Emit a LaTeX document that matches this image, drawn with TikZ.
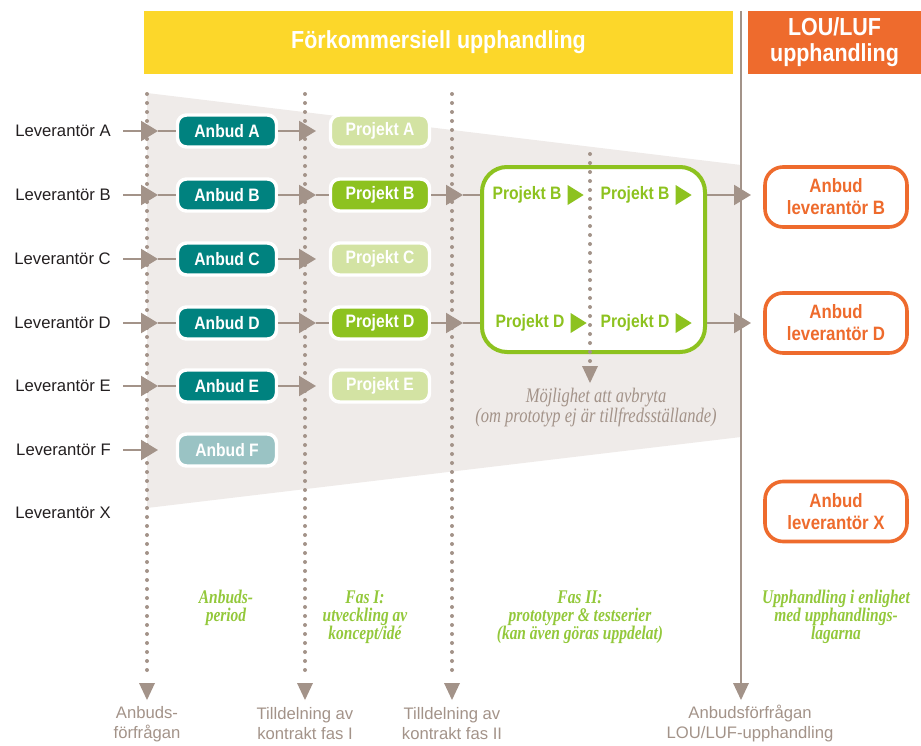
\documentclass[tikz,border=0pt]{standalone}
\usepackage{fontspec}
\setmainfont{Liberation Sans}
\newfontfamily\condb[FakeStretch=0.87]{Liberation Sans}
\newfontfamily\serifit[FakeStretch=0.8]{Liberation Serif}
\usetikzlibrary{arrows.meta}
\definecolor{tealc}{HTML}{00827F}
\definecolor{tealf}{HTML}{9AC3C4}
\definecolor{grn}{HTML}{8DC21F}
\definecolor{grnf}{HTML}{D3E3A3}
\definecolor{grntxt}{HTML}{93C83B}
\definecolor{yel}{HTML}{FCD72A}
\definecolor{org}{HTML}{EE6B2D}
\definecolor{lc}{HTML}{A39389}
\definecolor{bgc}{HTML}{EFEBE9}
\definecolor{levtxt}{HTML}{231F20}
\tikzset{
  lev/.style={font=\fontsize{12.5}{14}\selectfont, text=levtxt, inner sep=0pt},
  pill/.style={rounded corners=6.75pt, draw=white, line width=2.6pt, minimum width=74.25pt, minimum height=24pt,
     inner sep=0pt, text=white, font=\condb\bfseries\fontsize{13.5}{15}\selectfont},
  anb/.style={pill, fill=tealc},
  anbf/.style={pill, fill=tealf},
  prjf/.style={pill, fill=grnf},
  prj/.style={pill, fill=grn},
  obox/.style={rounded corners=13.5pt, draw=org, line width=2.7pt, fill=white, minimum width=106.5pt, minimum height=45pt,
     inner sep=0pt, align=center, text=org, font=\condb\bfseries\fontsize{14.5}{16.5}\selectfont},
  gboxs/.style={rounded corners=18.75pt, draw=grn, line width=3pt, fill=white, minimum width=167.25pt, minimum height=138.75pt, inner sep=0pt},
  gtxt/.style={inner sep=0pt, text=grn, font=\condb\bfseries\fontsize{13.5}{15}\selectfont},
  ln/.style={draw=lc, line width=1.6pt},
  arr/.style={ln, -{Triangle[length=12.75pt, width=15pt]}},
  dots/.style={draw=lc, line width=3pt, line cap=round, dash pattern=on 0pt off 6.75pt},
  phase/.style={inner sep=0pt, align=center, text=grntxt, font=\serifit\bfseries\itshape\fontsize{14.5}{13.5}\selectfont},
  foot/.style={inner sep=0pt, align=center, text=lc, font=\fontsize{12.5}{15}\selectfont},
  hdr/.style={inner sep=0pt, align=center, text=white, font=\condb\bfseries\fontsize{18.5}{19.5}\selectfont}
}
\begin{document}
\begin{tikzpicture}[x=0.75pt,y=-0.75pt]
\useasboundingbox (0,0) rectangle (921,746);
% background trapezoid
\fill[bgc] (147,93) -- (741,165) -- (741,437) -- (147,508) -- cycle;
% headers
\node[hdr, fill=yel, minimum width=441.75pt, minimum height=47.25pt] (fku) at (438.5,42.5) {Förkommersiell upphandling};
\node[hdr, fill=org, minimum width=129.75pt, minimum height=47.25pt] (lou) at (834.5,42.5) {LOU/LUF\\upphandling};
% vertical dotted lines
\foreach \n/\x in {v1/147, v2/305, v3/452}{
  \coordinate (\n t) at (\x,94);
  \coordinate (\n b) at (\x,676);
  \draw[dots] (\n t) -- (\n b);
  \fill[lc] (\x,683) -- ++(8,0) -- ++(-8,17) -- ++(-8,-17) -- cycle;
}
% solid vertical line
\coordinate (v4t) at (741,11);
\coordinate (v4b) at (741,683);
\draw[ln, line width=1.8pt] (v4t) -- (v4b);
\fill[lc] (741,683) -- ++(8,0) -- ++(-8,17) -- ++(-8,-17) -- cycle;
% green box
\node[gboxs] (gbox) at (593.5,259.5) {};
% inner dotted line
\coordinate (v5t) at (590,154);
\coordinate (v5b) at (590,362);
\draw[dots] (v5t) -- (v5b);
\fill[lc] (590,366) -- ++(8,0) -- ++(-8,17) -- ++(-8,-17) -- cycle;
% rows
\foreach \n/\y in {A/131,B/195,C/259,D/323,E/386,F/450,X/513}{
  \node[lev, anchor=east] (lev\n) at (111,\y) {Leverantör \n};
}
\foreach \n/\y in {A/131,B/195,C/259,D/323,E/386,F/450}{
  \coordinate (s\n) at (123,\y);
  \coordinate (t\n) at (158,\y);
}
\foreach \n/\y in {A/131,B/195,C/259,D/323,E/386}{
  \node[anb] (anb\n) at (227,\y) {Anbud \n};
  \coordinate (u\n) at (316,\y);
}
\node[anbf] (anbF) at (227,450) {Anbud F};
\foreach \n/\y/\s in {A/131/prjf,B/195/prj,C/259/prjf,D/323/prj,E/386/prjf}{
  \node[\s] (prj\n) at (380,\y) {Projekt \n};
}
\foreach \n in {A,B,C,D,E,F}{
  \draw[arr] (s\n) -- (t\n);
}
\foreach \n in {A,B,C,D,E}{
  \draw[ln] (t\n) -- (anb\n.west);
  \draw[arr] (anb\n.east) -- (u\n);
}
\foreach \n/\y in {B/195,D/323}{
  \draw[ln] (u\n) -- (prj\n.west);
  \coordinate (w\n) at (463,\y);
  \draw[arr] (prj\n.east) -- (w\n);
  \draw[ln] (w\n) -- (w\n -| gbox.west);
  \coordinate (z\n) at (751,\y);
  \draw[arr] (z\n -| gbox.east) -- (z\n);
}
% inside green box
\node[gtxt] (pB1) at (527,195) {Projekt B};
\node[gtxt] (pB2) at (635,195) {Projekt B};
\node[gtxt] (pD1) at (530,323) {Projekt D};
\node[gtxt] (pD2) at (635,323) {Projekt D};
\foreach \p in {pB1,pB2,pD1,pD2}{
  \fill[grn] ([xshift=4.5pt]\p.east) ++(0,-10) -- ++(16,10) -- ++(-16,10) -- cycle;
}
% orange boxes
\node[obox] (oB) at (836,197) {Anbud\\leverantör B};
\node[obox] (oD) at (836,323) {Anbud\\leverantör D};
\node[obox] (oX) at (836,511.5) {Anbud\\leverantör X};
% abort note
\node[inner sep=0pt, align=center, text=lc, font=\serifit\itshape\fontsize{15.5}{15}\selectfont] (abort) at (596,408)
  {Möjlighet att avbryta\\(om prototyp ej är tillfredsställande)};
% phase labels
\node[phase] (ph1) at (226,608) {Anbuds-\\period};
\node[phase] (ph2) at (365,617) {Fas I:\\utveckling av\\koncept/idé};
\node[phase] (ph3) at (580,617) {Fas II:\\prototyper \& testserier\\(kan även göras uppdelat)};
\node[phase] (ph4) at (836,617) {Upphandling i enlighet\\med upphandlings-\\lagarna};
% footer labels
\node[foot] (f1) at (147,724) {Anbuds-\\förfrågan};
\node[foot] (f2) at (305,724) {Tilldelning av\\kontrakt fas I};
\node[foot] (f3) at (452,724) {Tilldelning av\\kontrakt fas II};
\node[foot] (f4) at (750,724) {Anbudsförfrågan\\LOU/LUF-upphandling};
\end{tikzpicture}
\end{document}
